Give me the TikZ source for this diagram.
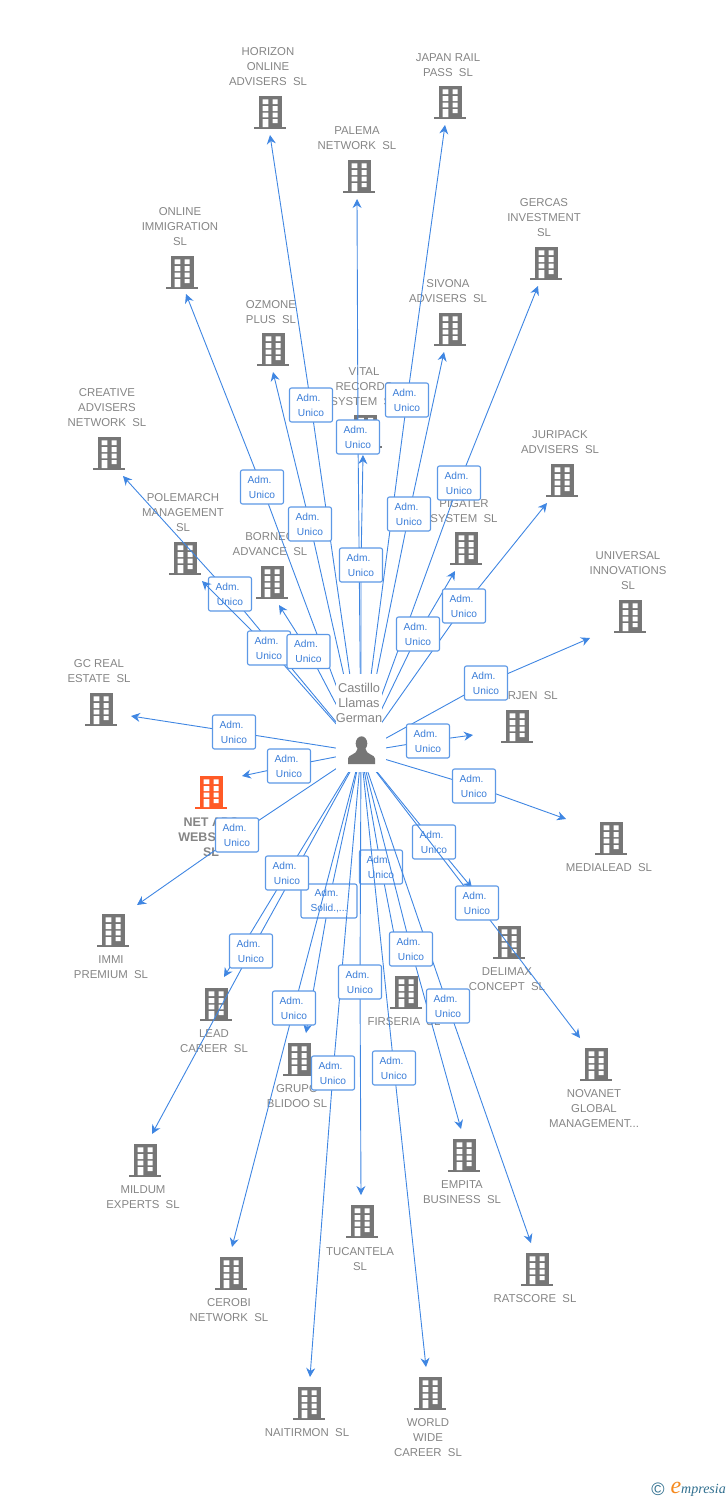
\documentclass[tikz,border=0pt]{standalone}
\usepackage{fontspec}
\usepackage{tikz}
\usetikzlibrary{arrows.meta}
\setmainfont{Liberation Sans}
\newfontfamily\logofont{Liberation Serif}
\definecolor{corpgray}{HTML}{767676}
\definecolor{textgray}{HTML}{858585}
\definecolor{corporange}{HTML}{FF5A26}
\definecolor{wireblue}{HTML}{3F86E2}
\definecolor{admblue}{HTML}{3A7DD8}
\definecolor{logoblue}{HTML}{2F6E8E}
\definecolor{logoorange}{HTML}{F58A1F}
\pgfdeclarelayer{base}
\pgfdeclarelayer{wiresa}
\pgfdeclarelayer{low}
\pgfdeclarelayer{wiresb}
\pgfsetlayers{base,wiresa,low,wiresb,main}
\newcommand{\admU}{Adm.\phantom{x}\\Unico}
\newcommand{\admS}{Adm.\phantom{x}\\Solid.,...}
\tikzset{
  bldg/.pic={
    \fill[pic actions] (-11.5,-16) rectangle (11.5,15);
    \fill[pic actions] (-16,15) rectangle (16,17);
    \fill[white] (-7.3,-12.7) rectangle (-1.7,-8) (2.7,-12.7) rectangle (7.7,-8)
      (-7.3,-6) rectangle (-1.7,-1) (2.7,-6) rectangle (7.7,-1)
      (-7.3,0.7) rectangle (-1.7,5.3) (2.7,0.7) rectangle (7.7,5.3)
      (-7.3,7) rectangle (-1.7,15) (2.7,7) rectangle (7.7,11);
  },
  personicon/.pic={
    \fill[pic actions] (0,-0.5) ellipse (5.8 and 7.2);
    \fill[pic actions] (-13.5,20) -- (-13.5,14.5) .. controls (-13.5,10.5) and (-5,11) .. (-4,5)
      -- (4,5) .. controls (5,11) and (13.5,10.5) .. (13.5,14.5) -- (13.5,20) -- cycle;
  },
  corp/.style={align=center,text=textgray,yshift=-1pt,font=\fontsize{11.4}{15}\selectfont},
  adm/.style={draw=wireblue!85,line width=1.1pt,fill=white,rounded corners=2pt,
    align=center,text=admblue,font=\fontsize{10.2}{15}\selectfont,
    minimum width=43pt,minimum height=34pt},
  wire/.style={draw=wireblue,line width=0.9pt,line join=round,-{Stealth[length=9pt,width=9pt]}}
}
\begin{document}
\begin{tikzpicture}[x=1pt,y=-1pt]
\tikzstyle{every node}+=[inner sep=0pt]
\useasboundingbox (0,0) rectangle (728,1500);
\begin{pgfonlayer}{base}
% companies
\pic[fill=corpgray] (bHorizon) at (270,112) {bldg};
\node[corp] (lHorizon) at (268,66) {HORIZON\\ONLINE\\ADVISERS~~SL};
\pic[fill=corpgray] (bJapan) at (450,102) {bldg};
\node[corp] (lJapan) at (448,64.5) {JAPAN RAIL\\PASS~~SL};
\pic[fill=corpgray] (bPalema) at (359,176) {bldg};
\node[corp] (lPalema) at (357,137.5) {PALEMA\\NETWORK~~SL};
\pic[fill=corpgray] (bGercas) at (546,263) {bldg};
\node[corp] (lGercas) at (544,217) {GERCAS\\INVESTMENT\\SL};
\pic[fill=corpgray] (bOnline) at (182,272) {bldg};
\node[corp] (lOnline) at (180,226) {ONLINE\\IMMIGRATION\\SL};
\pic[fill=corpgray] (bSivona) at (450,329) {bldg};
\node[corp] (lSivona) at (448,290.5) {SIVONA\\ADVISERS~~SL};
\pic[fill=corpgray] (bOzmone) at (273,349) {bldg};
\node[corp] (lOzmone) at (271,311.5) {OZMONE\\PLUS~~SL};
\pic[fill=corpgray] (bVital) at (365.5,430.5) {bldg};
\node[corp] (lVital) at (364,386) {VITAL\\RECORDS\\SYSTEM~~SL};
\pic[fill=corpgray] (bCreative) at (109,453) {bldg};
\node[corp] (lCreative) at (107,407) {CREATIVE\\ADVISERS\\NETWORK~~SL};
\pic[fill=corpgray] (bJuripack) at (562,480) {bldg};
\node[corp] (lJuripack) at (560,441.5) {JURIPACK\\ADVISERS~~SL};
\pic[fill=corpgray] (bPigater) at (466,548) {bldg};
\node[corp] (lPigater) at (464,510.5) {PIGATER\\SYSTEM~~SL};
\pic[fill=corpgray] (bPolemarch) at (185,558) {bldg};
\node[corp] (lPolemarch) at (183,512) {POLEMARCH\\MANAGEMENT\\SL};
\pic[fill=corpgray] (bBorneo) at (272,582) {bldg};
\node[corp] (lBorneo) at (270,543.5) {BORNEO\\ADVANCE~~SL};
\pic[fill=corpgray] (bUniversal) at (630,616) {bldg};
\node[corp] (lUniversal) at (628,570) {UNIVERSAL\\INNOVATIONS\\SL};
\pic[fill=corpgray] (bGcreal) at (101,709) {bldg};
\node[corp] (lGcreal) at (99,670.5) {GC REAL\\ESTATE~~SL};
\pic[fill=corpgray] (bBarjen) at (517,726) {bldg};
\node[corp,anchor=east] (lBarjen) at (558,695) {BARJEN~~SL};
\pic[fill=corporange] (bNetads) at (211,792) {bldg};
\node[corp,font=\fontsize{12.5}{15}\selectfont\bfseries] (lNetads) at (211,836) {NET ADS\\WEBSITES\\SL};
\pic[fill=corpgray] (bMedialead) at (611,838) {bldg};
\node[corp] (lMedialead) at (609,867) {MEDIALEAD~~SL};
\pic[fill=corpgray] (bImmi) at (113,930) {bldg};
\node[corp] (lImmi) at (111,966.5) {IMMI\\PREMIUM~~SL};
\pic[fill=corpgray] (bDelimax) at (509,942) {bldg};
\node[corp] (lDelimax) at (507,978.5) {DELIMAX\\CONCEPT~~SL};
\pic[fill=corpgray] (bLead) at (216,1004) {bldg};
\node[corp] (lLead) at (214,1040.5) {LEAD\\CAREER~~SL};
\pic[fill=corpgray] (bFirseria) at (406,992) {bldg};
\node[corp] (lFirseria) at (404,1021) {FIRSERIA~~SL};
\pic[fill=corpgray] (bGrupo) at (299,1059) {bldg};
\node[corp] (lGrupo) at (297,1095.5) {GRUPO\\BLIDOO SL};
\pic[fill=corpgray] (bNovanet) at (596,1064) {bldg};
\node[corp] (lNovanet) at (594,1108) {NOVANET\\GLOBAL\\MANAGEMENT...};
\pic[fill=corpgray] (bMildum) at (145,1160) {bldg};
\node[corp] (lMildum) at (143,1196.5) {MILDUM\\EXPERTS~~SL};
\pic[fill=corpgray] (bEmpita) at (464,1155) {bldg};
\node[corp] (lEmpita) at (462,1191.5) {EMPITA\\BUSINESS~~SL};
\pic[fill=corpgray] (bTucantela) at (362,1221) {bldg};
\node[corp] (lTucantela) at (360,1258.5) {TUCANTELA\\SL};
\pic[fill=corpgray] (bCerobi) at (231,1273) {bldg};
\node[corp] (lCerobi) at (229,1309.5) {CEROBI\\NETWORK~~SL};
\pic[fill=corpgray] (bRatscore) at (537,1269) {bldg};
\node[corp] (lRatscore) at (535,1298) {RATSCORE~~SL};
\pic[fill=corpgray] (bNaitirmon) at (309,1403) {bldg};
\node[corp] (lNaitirmon) at (307,1432) {NAITIRMON~~SL};
\pic[fill=corpgray] (bWorld) at (430,1393) {bldg};
\node[corp] (lWorld) at (428,1437) {WORLD\\WIDE\\CAREER~~SL};
\end{pgfonlayer}
% arrow ends
\coordinate (tHorizon) at (270,135);
\coordinate (tJapan) at (445,125);
\coordinate (tPalema) at (357,199);
\coordinate (tGercas) at (538,286);
\coordinate (tOnline) at (186,294);
\coordinate (tSivona) at (444,352);
\coordinate (tOzmone) at (273,372);
\coordinate (tVital) at (363,455);
\coordinate (tCreative) at (123,476);
\coordinate (tJuripack) at (547,503);
\coordinate (tPigater) at (455,571);
\coordinate (tPolemarch) at (202,581);
\coordinate (tBorneo) at (279,605);
\coordinate (tUniversal) at (590,638);
\coordinate (tGcreal) at (131,716);
\coordinate (tBarjen) at (473,735);
\coordinate (tNetads) at (242,776);
\coordinate (tMedialead) at (566,819);
\coordinate (tImmi) at (137,905);
\coordinate (tDelimax) at (472,888);
\coordinate (tLead) at (224,977);
\coordinate (tFirseria) at (400,965);
\coordinate (tGrupo) at (306,1033);
\coordinate (tNovanet) at (580,1038);
\coordinate (tMildum) at (152,1134);
\coordinate (tEmpita) at (461,1129);
\coordinate (tTucantela) at (361,1195);
\coordinate (tCerobi) at (232,1247);
\coordinate (tRatscore) at (531,1243);
\coordinate (tNaitirmon) at (310,1377);
\coordinate (tWorld) at (426,1367);
% centre
\node[fill=white,minimum width=50pt,minimum height=40pt] (owner) at (361,752) {};
\node[fill=white,align=center,text=textgray,font=\fontsize{12.8}{15}\selectfont,
  minimum width=46pt,minimum height=58pt] (ownerName) at (359,703) {Castillo\\Llamas\\German};
\pic[fill=corpgray] (ownerIcon) at (361.5,744) {personicon};
% role boxes
\begin{pgfonlayer}{low}
\node[adm] (aCreative) at (230,594) {\admU};
\node[adm] (aDelimax) at (434,842) {\admU};
\node[adm] (aFirseria) at (381,867) {\admU};
\node[adm,minimum width=56pt] (aGrupo) at (329,901) {\admS};
\end{pgfonlayer}
\node[adm] (aHorizon) at (311,405) {\admU};
\node[adm] (aJapan) at (407,400) {\admU};
\node[adm] (aPalema) at (358,437) {\admU};
\node[adm] (aGercas) at (459,483) {\admU};
\node[adm] (aOnline) at (262,487) {\admU};
\node[adm] (aSivona) at (409,514) {\admU};
\node[adm] (aOzmone) at (310,524) {\admU};
\node[adm] (aVital) at (361,565) {\admU};
\node[adm] (aJuripack) at (464,606) {\admU};
\node[adm] (aPigater) at (418,634) {\admU};
\node[adm] (aPolemarch) at (269,648) {\admU};
\node[adm] (aBorneo) at (308.5,651.5) {\admU};
\node[adm] (aUniversal) at (486,683) {\admU};
\node[adm] (aGcreal) at (234,732) {\admU};
\node[adm] (aBarjen) at (428,741) {\admU};
\node[adm] (aNetads) at (289,766) {\admU};
\node[adm] (aMedialead) at (474,786) {\admU};
\node[adm] (aImmi) at (237,835) {\admU};
\node[adm] (aLead) at (287,873) {\admU};
\node[adm] (aNovanet) at (477,903) {\admU};
\node[adm] (aEmpita) at (411,949) {\admU};
\node[adm] (aMildum) at (251,951) {\admU};
\node[adm] (aTucantela) at (360,982) {\admU};
\node[adm] (aRatscore) at (448,1006) {\admU};
\node[adm] (aCerobi) at (294,1008) {\admU};
\node[adm] (aWorld) at (394,1068) {\admU};
\node[adm] (aNaitirmon) at (333,1073) {\admU};
% connectors
\begin{pgfonlayer}{wiresa}
\draw[wire] (owner.center) -- (aCreative.center) -- (tCreative);
\draw[wire] (owner.center) -- (aDelimax.center) -- (tDelimax);
\draw[wire] (owner.center) -- (aFirseria.center) -- (tFirseria);
\draw[wire] (owner.center) -- (aGrupo.center) -- (tGrupo);
\end{pgfonlayer}
\begin{pgfonlayer}{wiresb}
\draw[wire] (owner.center) -- (aHorizon.center) -- (tHorizon);
\draw[wire] (owner.center) -- (aJapan.center) -- (tJapan);
\draw[wire] (owner.center) -- (aPalema.center) -- (tPalema);
\draw[wire] (owner.center) -- (aGercas.center) -- (tGercas);
\draw[wire] (owner.center) -- (aOnline.center) -- (tOnline);
\draw[wire] (owner.center) -- (aSivona.center) -- (tSivona);
\draw[wire] (owner.center) -- (aOzmone.center) -- (tOzmone);
\draw[wire] (owner.center) -- (aVital.center) -- (tVital);
\draw[wire] (owner.center) -- (aJuripack.center) -- (tJuripack);
\draw[wire] (owner.center) -- (aPigater.center) -- (tPigater);
\draw[wire] (owner.center) -- (aPolemarch.center) -- (tPolemarch);
\draw[wire] (owner.center) -- (aBorneo.center) -- (tBorneo);
\draw[wire] (owner.center) -- (aUniversal.center) -- (tUniversal);
\draw[wire] (owner.center) -- (aGcreal.center) -- (tGcreal);
\draw[wire] (owner.center) -- (aBarjen.center) -- (tBarjen);
\draw[wire] (owner.center) -- (aNetads.center) -- (tNetads);
\draw[wire] (owner.center) -- (aMedialead.center) -- (tMedialead);
\draw[wire] (owner.center) -- (aImmi.center) -- (tImmi);
\draw[wire] (owner.center) -- (aLead.center) -- (tLead);
\draw[wire] (owner.center) -- (aNovanet.center) -- (tNovanet);
\draw[wire] (owner.center) -- (aEmpita.center) -- (tEmpita);
\draw[wire] (owner.center) -- (aMildum.center) -- (tMildum);
\draw[wire] (owner.center) -- (aTucantela.center) -- (tTucantela);
\draw[wire] (owner.center) -- (aRatscore.center) -- (tRatscore);
\draw[wire] (owner.center) -- (aCerobi.center) -- (tCerobi);
\draw[wire] (owner.center) -- (aWorld.center) -- (tWorld);
\draw[wire] (owner.center) -- (aNaitirmon.center) -- (tNaitirmon);
\end{pgfonlayer}
% logo
\node[text=logoblue,font=\fontsize{18}{18}\selectfont] (logoMark) at (658,1489) {©};
\node[anchor=east,font=\logofont\itshape\fontsize{14}{14}\selectfont,text=logoblue] (logoWord) at (726,1489)
  {{\color{logoorange}\fontsize{24}{24}\selectfont e}mpresia};
\end{tikzpicture}
\end{document}
